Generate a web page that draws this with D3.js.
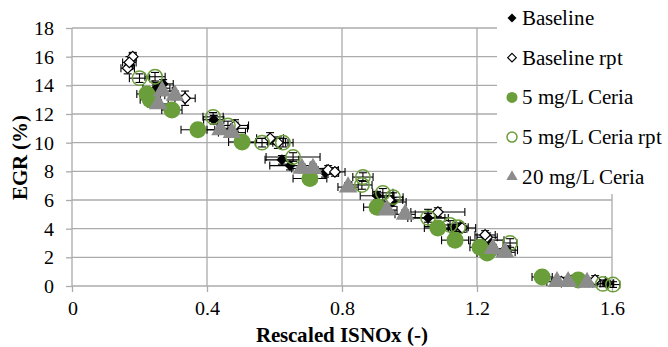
<!DOCTYPE html>
<html><head><meta charset="utf-8">
<script src="https://cdn.jsdelivr.net/npm/d3@7"></script>
<style>
@font-face{font-family:"ChartSerif";font-weight:400;src:local("Liberation Serif"),local("LiberationSerif"),local("Times New Roman"),local("Tinos");}
@font-face{font-family:"ChartSerif";font-weight:700;src:local("Liberation Serif Bold"),local("LiberationSerif-Bold"),local("Times New Roman Bold"),local("Tinos Bold");}
body{margin:0}
svg text{font-family:"ChartSerif","Liberation Serif","Times New Roman",serif !important}
</style>
</head><body>
<svg id="chart" width="668" height="347"></svg>
<script>
// ---- data ----
const xTicks = [0, 0.4, 0.8, 1.2, 1.6];
const yTicks = [0, 2, 4, 6, 8, 10, 12, 14, 16, 18];
const seriesNames = ["Baseline", "Baseline rpt", "5 mg/L Ceria", "5 mg/L Ceria rpt", "20 mg/L Ceria"];

const baselineX    = [0.17, 0.25, 0.27, 0.42, 0.48, 0.622, 0.646, 0.75, 0.904, 0.95, 1.055, 1.13, 1.23, 1.29, 1.48, 1.585];
const baselineY    = [15.4, 13.8, 14.1, 11.6, 11.0, 8.8, 8.4, 7.9, 6.3, 5.86, 4.75, 4.0, 3.2, 2.5, 0.42, 0.2];
const baselineXErr = [0.01, 0.04, 0.03, 0.03, 0.04, 0.05, 0.06, 0.04, 0.05, 0.04, 0.05, 0.04, 0.05, 0.03, 0.04, 0.02];
const baselineYErr = [0.3, 0.4, 0.3, 0.3, 0.3, 0.3, 0.3, 0.3, 0.3, 0.3, 0.6, 0.3, 0.3, 0.3, 0.3, 0.2];

const rptX    = [0.165, 0.18, 0.17, 0.335, 0.483, 0.587, 0.61, 0.759, 0.779, 0.94, 1.084, 1.156, 1.23, 1.224, 1.45, 1.55];
const rptY    = [15.2, 16.0, 15.6, 13.1, 11.2, 10.3, 10.0, 8.1, 7.96, 6.0, 5.16, 4.05, 3.4, 3.56, 0.3, 0.42];
const rptXErr = [0.02, 0.01, 0.02, 0.03, 0.04, 0.04, 0.03, 0.03, 0.03, 0.04, 0.08, 0.04, 0.03, 0.03, 0.03, 0.03];
const rptYErr = [0.4, 0.3, 0.4, 0.5, 0.4, 0.4, 0.4, 0.3, 0.3, 0.3, 0.3, 0.3, 0.3, 0.3, 0.3, 0.3];

const ceria5X    = [0.222, 0.232, 0.296, 0.373, 0.504, 0.705, 0.904, 1.084, 1.135, 1.209, 1.23, 1.393, 1.5];
const ceria5Y    = [13.4, 13.0, 12.28, 10.9, 10.05, 7.5, 5.5, 4.05, 3.2, 2.7, 2.3, 0.63, 0.42];
const ceria5XErr = [0.03, 0.03, 0.03, 0.05, 0.04, 0.05, 0.04, 0.04, 0.04, 0.03, 0.03, 0.03, 0.03];
const ceria5YErr = [0.3, 0.3, 0.3, 0.3, 0.3, 0.3, 0.3, 0.3, 0.3, 0.3, 0.3, 0.3, 0.3];

const ceria5rX    = [0.2, 0.246, 0.418, 0.462, 0.563, 0.625, 0.655, 0.862, 0.859, 0.921, 0.951, 1.055, 1.12, 1.144, 1.298, 1.573, 1.603];
const ceria5rY    = [14.5, 14.6, 11.8, 11.2, 10.0, 10.0, 9.0, 7.6, 7.05, 6.5, 6.2, 4.75, 4.26, 4.1, 3.0, 0.15, 0.1];
const ceria5rXErr = [0.03, 0.03, 0.03, 0.03, 0.07, 0.03, 0.08, 0.03, 0.03, 0.03, 0.03, 0.06, 0.03, 0.03, 0.02, 0.03, 0.02];
const ceria5rYErr = [0.3, 0.3, 0.3, 0.3, 0.3, 0.3, 0.3, 0.3, 0.3, 0.3, 0.3, 0.3, 0.3, 0.3, 0.3, 0.2, 0.2];

const ceria20X    = [0.267, 0.305, 0.255, 0.44, 0.474, 0.681, 0.714, 0.818, 0.933, 0.987, 1.247, 1.283, 1.437, 1.47, 1.526];
const ceria20Y    = [13.6, 13.3, 12.7, 10.9, 10.7, 8.2, 8.2, 6.9, 5.3, 5.0, 2.6, 2.35, 0.3, 0.3, 0.25];
const ceria20XErr = [0.03, 0.03, 0.03, 0.04, 0.04, 0.03, 0.04, 0.03, 0.03, 0.03, 0.03, 0.03, 0.03, 0.03, 0.03];
const ceria20YErr = [0.3, 0.3, 0.3, 0.3, 0.3, 0.3, 0.3, 0.3, 0.3, 0.3, 0.3, 0.3, 0.3, 0.3, 0.3];

// ---- layout ----
const svg = d3.select("#chart");
const L = 72, R = 612, T = 28, B = 286;
const x = d3.scaleLinear().domain([0, 1.6]).range([L, R]);
const y = d3.scaleLinear().domain([0, 18]).range([B, T]);
const grid = "#ababab";
const font = "Liberation Serif";

// grid
const g = svg.append("g");
g.selectAll("line.h").data(yTicks.filter(d => d > 0)).enter().append("line")
  .attr("x1", L).attr("x2", R).attr("y1", d => y(d)).attr("y2", d => y(d))
  .attr("stroke", grid).attr("stroke-width", 1.3);
g.selectAll("line.v").data(xTicks.filter(d => d > 0)).enter().append("line")
  .attr("y1", T).attr("y2", B).attr("x1", d => x(d)).attr("x2", d => x(d))
  .attr("stroke", grid).attr("stroke-width", 1.3);

// axes
const xAxis = d3.axisBottom(x).tickValues(xTicks).tickSize(6).tickPadding(9).tickFormat(d => d === 0 ? "0" : d3.format(".1f")(d));
const yAxis = d3.axisLeft(y).tickValues(yTicks).tickSize(6).tickPadding(12);
const gx = svg.append("g").attr("transform", `translate(0,${B})`).call(xAxis);
const gy = svg.append("g").attr("transform", `translate(${L},0)`).call(yAxis);
[gx, gy].forEach(a => {
  a.attr("font-family", font).attr("font-size", 20);
  a.select(".domain").attr("stroke", grid).attr("stroke-width", 1.3);
  a.selectAll(".tick line").attr("stroke", grid).attr("stroke-width", 1.3);
  a.selectAll(".tick text").attr("fill", "#000").attr("font-family", font);
});
gx.select(".domain").attr("d", `M${L},0H${R}`);
gy.select(".domain").attr("d", `M0,${B}V${T}`);

// titles
svg.append("text").attr("x", (L + R) / 2).attr("y", 342).attr("text-anchor", "middle")
  .attr("font-family", font).attr("font-weight", "bold").attr("font-size", 21).text("Rescaled ISNOx (-)");
svg.append("text").attr("transform", `translate(27,${(T + B) / 2}) rotate(-90)`).attr("text-anchor", "middle")
  .attr("font-family", font).attr("font-weight", "bold").attr("font-size", 21).text("EGR (%)");

// markers
function diamondPath(h) { return `M0,${-h}L${h},0L0,${h}L${-h},0Z`; }
function drawMarker(sel, kind, cx, cy, legend) {
  if (kind === 0) {
    sel.append("path").attr("d", diamondPath(legend ? 4.5 : 5.5))
      .attr("transform", `translate(${cx},${cy})`).attr("fill", "#000");
  } else if (kind === 1) {
    sel.append("path").attr("d", diamondPath(legend ? 4.3 : 5.3))
      .attr("transform", `translate(${cx},${cy})`).attr("fill", "#fff").attr("stroke", "#000").attr("stroke-width", 1.2);
  } else if (kind === 2) {
    sel.append("circle").attr("cx", cx).attr("cy", cy).attr("r", legend ? 5.5 : 8.5).attr("fill", "#6a9e3a");
  } else if (kind === 3) {
    sel.append("circle").attr("cx", cx).attr("cy", cy).attr("r", legend ? 5 : 7.2)
      .attr("fill", "none").attr("stroke", "#6a9e3a").attr("stroke-width", 1.5);
  } else {
    sel.append("path").attr("d", d3.symbol().type(d3.symbolTriangle).size(legend ? 55 : 150)())
      .attr("transform", `translate(${cx},${cy})`).attr("fill", "#8c8c8c");
  }
}

const series = [
  [baselineX, baselineY, baselineXErr, baselineYErr],
  [rptX, rptY, rptXErr, rptYErr],
  [ceria5X, ceria5Y, ceria5XErr, ceria5YErr],
  [ceria5rX, ceria5rY, ceria5rXErr, ceria5rYErr],
  [ceria20X, ceria20Y, ceria20XErr, ceria20YErr]
];
const plot = svg.append("g");
const eg = plot.append("g").attr("stroke", "#000").attr("stroke-width", 1.1);
const mg = plot.append("g");
series.forEach(([xs, ys, xe, ye], k) => {
  xs.forEach((xv, i) => {
    const cx = x(xv), cy = y(ys[i]);
    const x0 = x(xv - xe[i]), x1 = x(xv + xe[i]);
    const y0 = y(ys[i] - ye[i]), y1 = y(ys[i] + ye[i]);
    eg.append("line").attr("x1", x0).attr("x2", x1).attr("y1", cy).attr("y2", cy);
    eg.append("line").attr("x1", x0).attr("x2", x0).attr("y1", cy - 4).attr("y2", cy + 4);
    eg.append("line").attr("x1", x1).attr("x2", x1).attr("y1", cy - 4).attr("y2", cy + 4);
    eg.append("line").attr("x1", cx).attr("x2", cx).attr("y1", y0).attr("y2", y1);
    eg.append("line").attr("x1", cx - 4).attr("x2", cx + 4).attr("y1", y0).attr("y2", y0);
    eg.append("line").attr("x1", cx - 4).attr("x2", cx + 4).attr("y1", y1).attr("y2", y1);
  });
});
series.forEach(([xs, ys], k) => {
  const sg = mg.append("g");
  xs.forEach((xv, i) => drawMarker(sg, k, x(xv), y(ys[i]), false));
});

// legend
const lg = svg.append("g");
lg.append("rect").attr("x", 497).attr("y", 0).attr("width", 171).attr("height", 194).attr("fill", "#fff");
seriesNames.forEach((name, i) => {
  const cy = 18 + i * 39.7;
  drawMarker(lg, i, 512, cy, true);
  lg.append("text").attr("x", 522).attr("y", cy + 7)
    .attr("font-family", font).attr("font-size", 21).text(name);
});
</script>
</body></html>
